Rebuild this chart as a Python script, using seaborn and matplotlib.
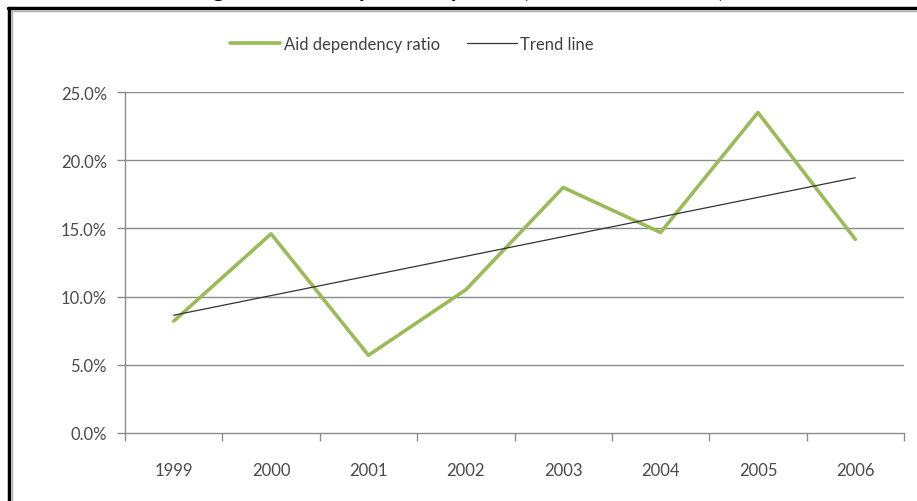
import numpy as np
import pandas as pd
import matplotlib
matplotlib.use("Agg")
import matplotlib.pyplot as plt
import seaborn as sns
from matplotlib.lines import Line2D
from matplotlib.ticker import FixedLocator, FuncFormatter

# data
years = ["1999", "2000", "2001", "2002", "2003", "2004", "2005", "2006"]
aid_ratio = [8.2, 14.6, 5.7, 10.5, 18.0, 14.7, 23.5, 14.2]  # percent

sns.set_theme(style="white")
plt.rcParams["font.family"] = ["Lato", "DejaVu Sans"]

df = pd.DataFrame({"pos": np.arange(len(years)), "year": years, "ratio": aid_ratio})
# linear trend line, like Excel's
slope, intercept = np.polyfit(df["pos"], df["ratio"], 1)
df["trend"] = intercept + slope * df["pos"]

fig = plt.figure(figsize=(9.17, 5.02), dpi=100)
ax = fig.add_axes([125 / 917, 68 / 502, 779 / 917, 341 / 502])

grid_col = "#8c8c8c"
for v in [5, 10, 15, 20, 25]:
    ax.axhline(v, color=grid_col, lw=1.0, zorder=0)

sns.lineplot(data=df, x="pos", y="ratio", ax=ax, color="#9bbb59", lw=2.6,
             label="Aid dependency ratio", zorder=3)
sns.lineplot(data=df, x="pos", y="trend", ax=ax, color="#333333", lw=0.9,
             label="Trend line", zorder=4)

ax.set_xlim(-0.5, len(years) - 0.5)
ax.set_ylim(0, 25)
ax.set_xlabel("")
ax.set_ylabel("")

ax.yaxis.set_major_locator(FixedLocator([0, 5, 10, 15, 20, 25]))
ax.yaxis.set_major_formatter(FuncFormatter(lambda v, p: f"{v:.1f}%"))
ax.set_xticks(df["pos"])
ax.set_xticklabels(years)
ax.xaxis.set_minor_locator(FixedLocator(np.arange(-0.5, len(years), 1.0)))

ax.tick_params(axis="x", which="major", length=0, pad=21, labelsize=12, labelcolor="#4a4a4a")
ax.tick_params(axis="x", which="minor", length=6, width=1, color=grid_col, direction="out")
ax.tick_params(axis="y", which="major", length=6, width=1, color=grid_col, direction="out",
               pad=7, labelsize=12, labelcolor="#4a4a4a")
ax.yaxis.set_ticks_position("left")
ax.xaxis.set_ticks_position("bottom")

for s in ["top", "right"]:
    ax.spines[s].set_visible(False)
for s in ["left", "bottom"]:
    ax.spines[s].set_color(grid_col)
    ax.spines[s].set_linewidth(1.0)

ax.legend(loc="center", bbox_to_anchor=(412 / 917, 1 - 45 / 502), bbox_transform=fig.transFigure,
          ncol=2, frameon=False, fontsize=12, handlelength=3.0, handletextpad=0.2,
          columnspacing=1.6, labelcolor="#404040")

# cut-off figure caption at the very top (only descenders show)
fig.text(0.5, 1.0 + 3 / 502, "Figure 1: Aid dependency ratio (ODA as % of GDP)", ha="center",
         va="baseline", fontsize=17, fontweight="bold", color="black")

# black frame of the pasted chart (top and left edges)
fig.add_artist(Line2D([8 / 917, 1], [1 - 9 / 502, 1 - 9 / 502], transform=fig.transFigure,
                      color="black", lw=2.5))
fig.add_artist(Line2D([9 / 917, 9 / 917], [0, 1 - 9 / 502], transform=fig.transFigure,
                      color="black", lw=2.5))
fig.add_artist(Line2D([12 / 917, 1], [1 - 12 / 502, 1 - 12 / 502], transform=fig.transFigure,
                      color="#b0b0b0", lw=1))
fig.add_artist(Line2D([12 / 917, 12 / 917], [0, 1 - 12 / 502], transform=fig.transFigure,
                      color="#b0b0b0", lw=1))

fig.savefig("out.png", dpi=100)
